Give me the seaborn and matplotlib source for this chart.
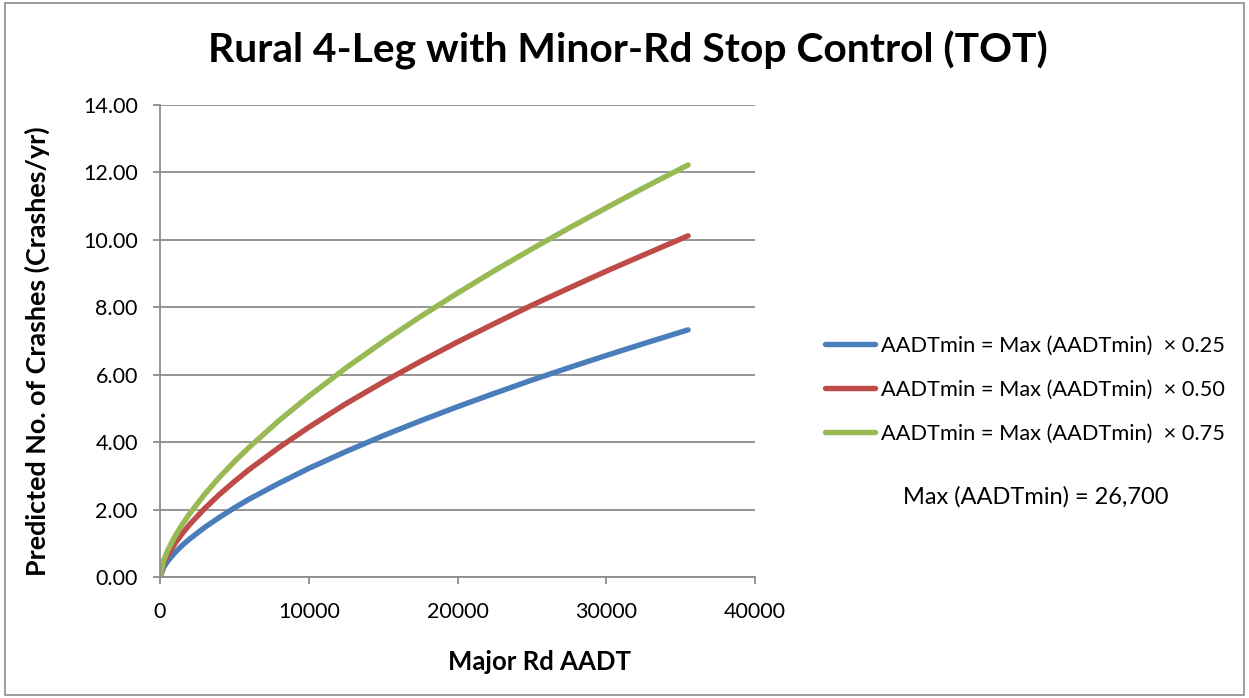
import matplotlib
matplotlib.use("Agg")
import matplotlib.pyplot as plt
import seaborn as sns
import pandas as pd
from matplotlib.patches import Rectangle
from matplotlib.lines import Line2D

# ---- data ----
major_aadt = [0, 250, 500, 1000, 1500, 2000, 3000, 4000, 5000, 6000, 8000, 10000,
              12500, 15000, 17500, 20000, 22500, 25000, 27500, 30000, 32500, 35500]
crashes_025 = [0.00, 0.29, 0.46, 0.72, 0.94, 1.13, 1.47, 1.77, 2.05, 2.31, 2.78, 3.22,
               3.72, 4.19, 4.63, 5.05, 5.45, 5.84, 6.21, 6.57, 6.92, 7.33]
crashes_050 = [0.00, 0.40, 0.63, 0.99, 1.29, 1.56, 2.03, 2.45, 2.83, 3.19, 3.84, 4.44,
               5.14, 5.78, 6.39, 6.97, 7.52, 8.06, 8.57, 9.07, 9.55, 10.12]
crashes_075 = [0.00, 0.49, 0.77, 1.20, 1.56, 1.88, 2.45, 2.96, 3.42, 3.85, 4.64, 5.36,
               6.20, 6.98, 7.72, 8.42, 9.09, 9.73, 10.35, 10.95, 11.54, 12.22]
series_labels = ["AADTmin = Max (AADTmin)  \u00d7 0.25",
                 "AADTmin = Max (AADTmin)  \u00d7 0.50",
                 "AADTmin = Max (AADTmin)  \u00d7 0.75"]
colors = ["#4A7EBB", "#BE4B48", "#98B954"]
y_ticks = [0, 2, 4, 6, 8, 10, 12, 14]
x_ticks = [0, 10000, 20000, 30000, 40000]

rows = []
for lab, vals in zip(series_labels, [crashes_025, crashes_050, crashes_075]):
    for x, y in zip(major_aadt, vals):
        rows.append({"Major Rd AADT": x, "Crashes": y, "Series": lab})
df = pd.DataFrame(rows)

sns.set_theme(style="white")
plt.rcParams['font.family'] = ['Lato', 'DejaVu Sans']
plt.rcParams['text.color'] = 'black'

fig = plt.figure(figsize=(12.49, 6.98), dpi=100)
ax = fig.add_axes([0.1281, 0.1734, 0.6045 - 0.1281, 0.8496 - 0.1734])

sns.lineplot(data=df, x="Major Rd AADT", y="Crashes", hue="Series",
             palette=colors, linewidth=3.9, ax=ax, legend=False,
             solid_capstyle="round")

ax.set_xlim(0, 40000)
ax.set_ylim(0, 14)
ax.set_xticks(x_ticks)
ax.set_xticklabels([f"{v}" for v in x_ticks])
ax.set_yticks(y_ticks)
ax.set_yticklabels([f"{v:.2f}" for v in y_ticks])
ax.yaxis.grid(True, color="#8C8C8C", linewidth=1.3)
ax.xaxis.grid(False)
for s in ["top", "right"]:
    ax.spines[s].set_visible(False)
for s in ["left", "bottom"]:
    ax.spines[s].set_color("#8C8C8C")
    ax.spines[s].set_linewidth(1.3)
ax.tick_params(axis="both", which="major", direction="out", length=5, width=1.3,
               color="#8C8C8C", labelsize=15.5, labelcolor="black",
               left=True, bottom=True)
ax.tick_params(axis="y", pad=11)
ax.tick_params(axis="x", pad=13)
ax.set_xlabel("")
ax.set_ylabel("")

fig.text(540 / 1249, 1 - 662 / 698, "Major Rd AADT", ha="center", va="center",
         fontsize=18.5, fontweight="bold", color="black")
fig.text(37 / 1249, 1 - 351 / 698, "Predicted No. of Crashes (Crashes/yr)", ha="center",
         va="center", rotation=90, fontsize=19.4, fontweight="bold", color="black")

fig.text(0.5024, 1 - 50 / 698, "Rural 4-Leg with Minor-Rd Stop Control (TOT)", ha="center",
         va="center", fontsize=29.3, fontweight="bold", color="black")

handles = [Line2D([0], [0], color=c, lw=3.9, solid_capstyle="round") for c in colors]
leg = fig.legend(handles, series_labels, loc="center left",
                 bbox_to_anchor=(825 / 1249, 1 - 390 / 698),
                 frameon=False, fontsize=15.7, handlelength=2.3, labelspacing=1.1,
                 handletextpad=0.25, borderpad=0, borderaxespad=0)
for t in leg.get_texts():
    t.set_color("black")

fig.text(1036 / 1249, 1 - 497 / 698, "Max (AADTmin) = 26,700", ha="center", va="center",
         fontsize=17, color="black")

fig.patches.append(Rectangle((0.004, 0.004), 0.992, 0.992, transform=fig.transFigure,
                             fill=False, edgecolor="#8C8C8C", linewidth=1.2))

fig.savefig("out.png", dpi=100)
